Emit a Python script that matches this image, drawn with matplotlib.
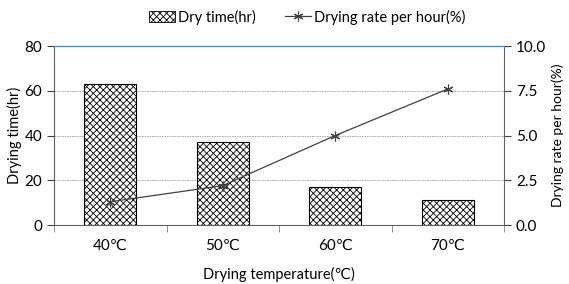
import numpy as np
import matplotlib.pyplot as plt
from matplotlib.lines import Line2D
from matplotlib.patches import Patch

plt.rcParams['font.family'] = ['Lato', 'DejaVu Sans']
plt.rcParams['hatch.linewidth'] = 0.6

# ================= DATA =================

temps = ["40\u2103", "50\u2103", "60\u2103", "70\u2103"]
dry_time = [63, 37, 17, 11]
drying_rate = [1.3, 2.2, 5.0, 7.6]

# ================= FIGURE =================

fig = plt.figure(figsize=(5.69, 2.84), dpi=100)
ax = fig.add_axes([0.0949, 0.2077, 0.7909, 0.6303])
x = np.arange(len(temps))

ax.bar(x, dry_time, width=0.46, color="white", edgecolor="black",
       linewidth=0.8, hatch="xxxxx", zorder=3)

ax.set_xlim(-0.5, 3.5)
ax.set_ylim(0, 80)
ax.set_yticks([0, 20, 40, 60, 80])
ax.set_xticks(x)
ax.set_xticklabels(temps)
ax.set_xticks(np.arange(-0.5, 4, 1), minor=True)
ax.tick_params(axis="x", which="major", length=0, pad=10, labelsize=11)
ax.tick_params(axis="x", which="minor", length=5, direction="out", color="#808080")
ax.tick_params(axis="y", length=5, direction="out", labelsize=11, color="#404040")
ax.grid(axis="y", linestyle=(0, (2, 1)), color="#a0a0a0", linewidth=0.6, zorder=0)

for s in ["left", "bottom"]:
    ax.spines[s].set_color("#606060")
ax.spines["top"].set_color("#4F81BD")
ax.spines["right"].set_visible(False)

ax.set_ylabel("Drying time(hr)", fontsize=10.5, labelpad=2)
ax.set_xlabel("Drying temperature(\u2103)", fontsize=10.5, labelpad=10)

ax2 = ax.twinx()
ax2.plot(x, drying_rate, color="#404040", linewidth=0.9, marker=(6, 2, 0),
         markersize=7, markeredgewidth=0.8, zorder=4)
ax2.set_ylim(0, 10)
ax2.set_yticks([0, 2.5, 5.0, 7.5, 10.0])
ax2.set_yticklabels(["0.0", "2.5", "5.0", "7.5", "10.0"])
ax2.tick_params(axis="y", length=5, direction="out", labelsize=11, color="#404040")
for s in ["left", "bottom"]:
    ax2.spines[s].set_visible(False)
ax2.spines["top"].set_color("#4F81BD")
ax2.spines["right"].set_color("#606060")
ax2.set_ylabel("Drying rate per hour(%)", fontsize=10, labelpad=4)

# ================= LEGEND =================

handles = [
    Patch(facecolor="white", edgecolor="black", hatch="xxxxx", linewidth=0.6),
    Line2D([], [], color="#404040", linewidth=0.9, marker=(6, 2, 0),
           markersize=7, markeredgewidth=0.8),
]
fig.legend(handles, ["Dry time(hr)", "Drying rate per hour(%)"],
           loc="center", bbox_to_anchor=(0.54, 0.94), ncol=2, frameon=False,
           fontsize=10.5, handlelength=1.8, handletextpad=0.2, columnspacing=2.0)

fig.savefig("out.png", dpi=100)
